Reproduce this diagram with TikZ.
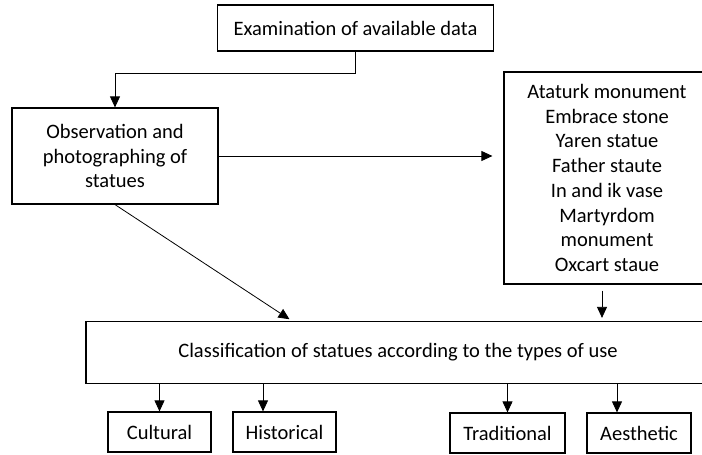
\documentclass[tikz,border=0pt]{standalone}
\usepackage{fontspec}
\setmainfont{Carlito}
\usetikzlibrary{arrows.meta}

\tikzset{
  box/.style={draw, line width=1.2pt, inner sep=0pt, align=center,
    font=\fontsize{20.5}{24.7}\selectfont},
  arr/.style={-{Triangle[length=11pt,width=10pt]}, line width=0.8pt}
}

\begin{document}
\begin{tikzpicture}[x=1pt, y=-1pt]
    \useasboundingbox (0,0) rectangle (702,455);
    \clip (0,0) rectangle (702,455);

    % 上部
    \node[box, minimum width=276pt, minimum height=46pt] (exam) at (355.5,28) {Examination of available data};
    \node[box, minimum width=206pt, minimum height=96pt] (obs) at (115,156) {Observation and\\photographing of\\statues};
    \node[box, minimum width=206pt, minimum height=212pt] (list) at (607,178)
        {Ataturk monument\\Embrace stone\\Yaren statue\\Father staute\\In and ik vase\\Martyrdom\\monument\\Oxcart staue};

    % 分类
    \node[box, minimum width=624pt, minimum height=62pt] (cls) at (398,352.5) {Classification of statues according to the types of use};

    % 类型
    \node[box, minimum width=103pt, minimum height=40pt] (cult) at (159.5,432) {Cultural};
    \node[box, minimum width=103pt, minimum height=40pt] (hist) at (284.5,432) {Historical};
    \node[box, minimum width=115pt, minimum height=40pt] (trad) at (507.5,433) {Traditional};
    \node[box, minimum width=104pt, minimum height=40pt] (aest) at (639,433) {Aesthetic};

    % 连线
    \draw[arr] (exam.south) -- ++(0,22) -| (obs.north);
    \draw[arr, shorten >=11pt] (obs.east) -- (obs.east -| list.west);
    \coordinate (clsin) at ([xshift=-106pt]cls.north);
    \draw[arr, shorten >=3pt] (obs.south) -- (clsin);
    \coordinate (listout) at ([xshift=-5pt]list.south);
    \draw[arr, shorten <=6pt, shorten >=3pt] (listout) -- (listout |- cls.north);

    \coordinate (histin) at ([xshift=-21.5pt]hist.north);
    \coordinate (aestin) at ([xshift=-22pt]aest.north);
    \draw[arr] (cls.south -| cult.north) -- (cult.north);
    \draw[arr] (cls.south -| histin) -- (histin);
    \draw[arr] (cls.south -| trad.north) -- (trad.north);
    \draw[arr] (cls.south -| aestin) -- (aestin);
\end{tikzpicture}
\end{document}
